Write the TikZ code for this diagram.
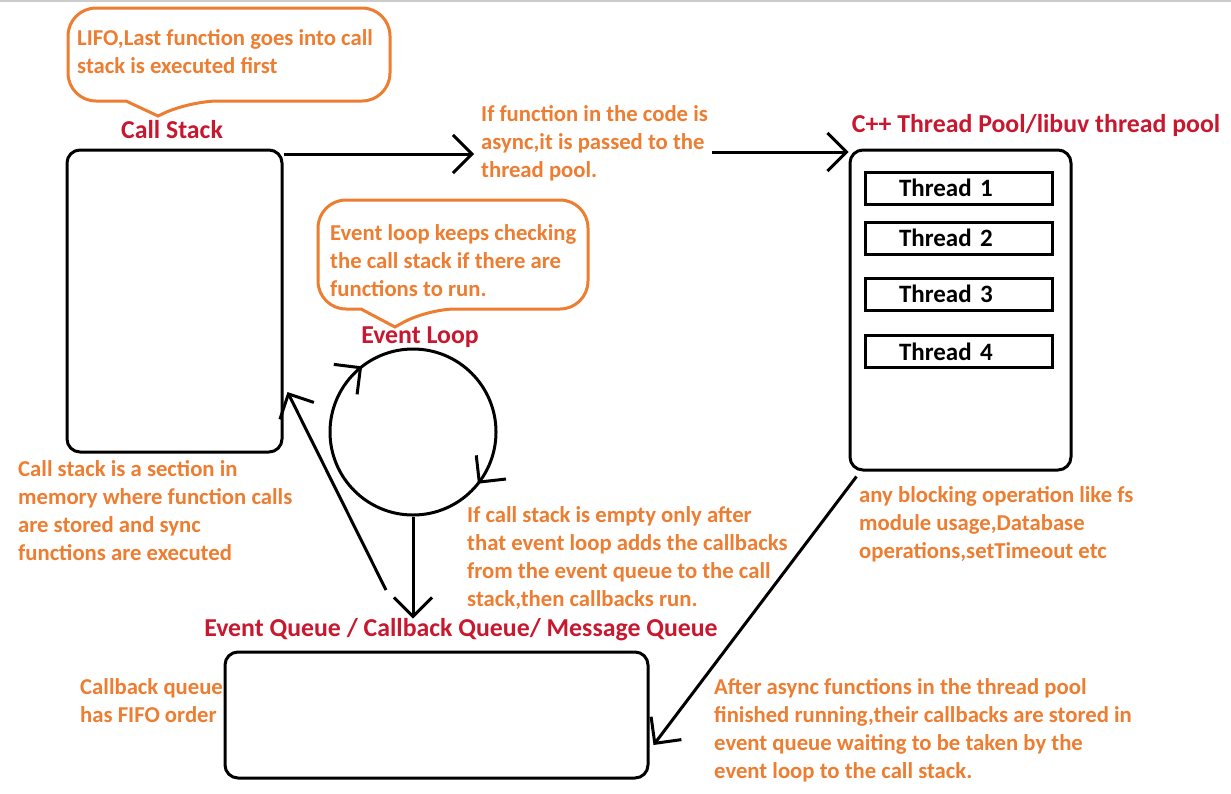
\documentclass[tikz,border=0pt]{standalone}
\usepackage{fontspec}
\setmainfont{Carlito}
\usetikzlibrary{arrows.meta,decorations.markings}
\definecolor{notecol}{RGB}{237,125,49}
\definecolor{titlecol}{RGB}{200,24,48}
\tikzset{
  box/.style={draw,line width=3pt,rounded corners=13pt,inner sep=0pt},
  thread/.style={draw,line width=3pt,minimum width=187pt,minimum height=32pt,inner xsep=34pt,
    text width=119pt,align=left,font=\fontsize{25}{28}\selectfont\bfseries},
  note/.style={text=notecol,align=left,inner sep=0pt,anchor=base west,font=\fontsize{22.7}{28}\selectfont\bfseries},
  title/.style={text=titlecol,inner sep=0pt,font=\fontsize{25.8}{30}\selectfont\bfseries},
  bubble/.style={draw=notecol,line width=3pt},
  arr/.style={line width=3pt,-{Straight Barb[length=19pt,width=38pt]}},
}

\begin{document}
\begin{tikzpicture}[x=1pt,y=-1pt]
\fill[white] (0,0) rectangle (1231,793);
\useasboundingbox (0,0) rectangle (1231,793);
\draw[gray!40,line width=2pt] (0,1) -- (1231,1);

% speech bubbles
\draw[bubble,rounded corners=28pt] (68,8) -- (390,8) -- (390,101) -- (190,101)
  [sharp corners] -- (158,116) -- (126,101) [rounded corners=28pt] -- (68,101) -- cycle;
\draw[bubble,rounded corners=28pt] (318,200) -- (588,200) -- (588,309) -- (427,309)
  [sharp corners] -- (395,327) -- (361,309) [rounded corners=28pt] -- (318,309) -- cycle;
\node[note] (lifo) at (77,73) {LIFO,Last function goes into call\\stack is executed first};
\node[note] (checking) at (330,296) {Event loop keeps checking\\the call stack if there are\\functions to run.};

% titles
\node[title] (stacktitle) at (172,130) {Call Stack};
\node[title] (looptitle) at (420,337) {Event Loop};
\node[title] (pooltitle) at (1036,125) {C++ Thread Pool/libuv thread pool};
\node[title] (queuetitle) at (461,630) {Event Queue / Callback Queue/ Message Queue};

% boxes
\node[box,minimum width=215pt,minimum height=302pt] (callstack) at (174.5,301) {};
\node[box,minimum width=221pt,minimum height=320pt] (pool) at (960.5,310) {};
\node[box,minimum width=423pt,minimum height=126pt] (queue) at (436.5,715) {};
\node[thread] (t1) at (958.5,188) {Thread 1};
\node[thread] (t2) at (958.5,238) {Thread 2};
\node[thread] (t3) at (958.5,294) {Thread 3};
\node[thread] (t4) at (958.5,351.5) {Thread 4};

% event loop
\node[draw,circle,line width=3pt,minimum size=166pt,inner sep=0pt,
  postaction={decorate,decoration={markings,
    mark=at position 0.355 with {\arrowreversed{Straight Barb[length=19pt,width=38pt]}},
    mark=at position 0.893 with {\arrowreversed{Straight Barb[length=19pt,width=38pt]}}}}]
  (loop) at (413,432) {};

% notes
\node[note] (async) at (481,177) {If function in the code is\\async,it is passed to the\\thread pool.};
\node[note] (stacknote) at (18,560) {Call stack is a section in\\memory where function calls\\are stored and sync\\functions are executed};
\node[note] (emptynote) at (467,606) {If call stack is empty only after\\that event loop adds the callbacks\\from the event queue to the call\\stack,then callbacks run.};
\node[note] (blocknote) at (859,558) {any blocking operation like fs\\module usage,Database\\operations,setTimeout etc};
\node[note] (fifonote) at (80,722) {Callback queue\\has FIFO order};
\node[note] (afternote) at (714,778) {After async functions in the thread pool\\finished running,their callbacks are stored in\\event queue waiting to be taken by the\\event loop to the call stack.};

% connectors
\coordinate (toasync) at (474,154);
\coordinate (frompass) at (712,152);
\coordinate (back) at (386,590);
\draw[arr] (callstack.north east |- toasync) -- (toasync);
\draw[arr] (frompass) -- (frompass -| pool.west);
\draw[arr] (loop.south) -- (loop.south |- queuetitle.north);
\draw[arr] (back) -- ([shift={(4,91)}]callstack.east);
\draw[arr] ([shift={(8,5)}]pool.south west) -- ([shift={(4,30)}]queue.east);
\end{tikzpicture}
\end{document}
